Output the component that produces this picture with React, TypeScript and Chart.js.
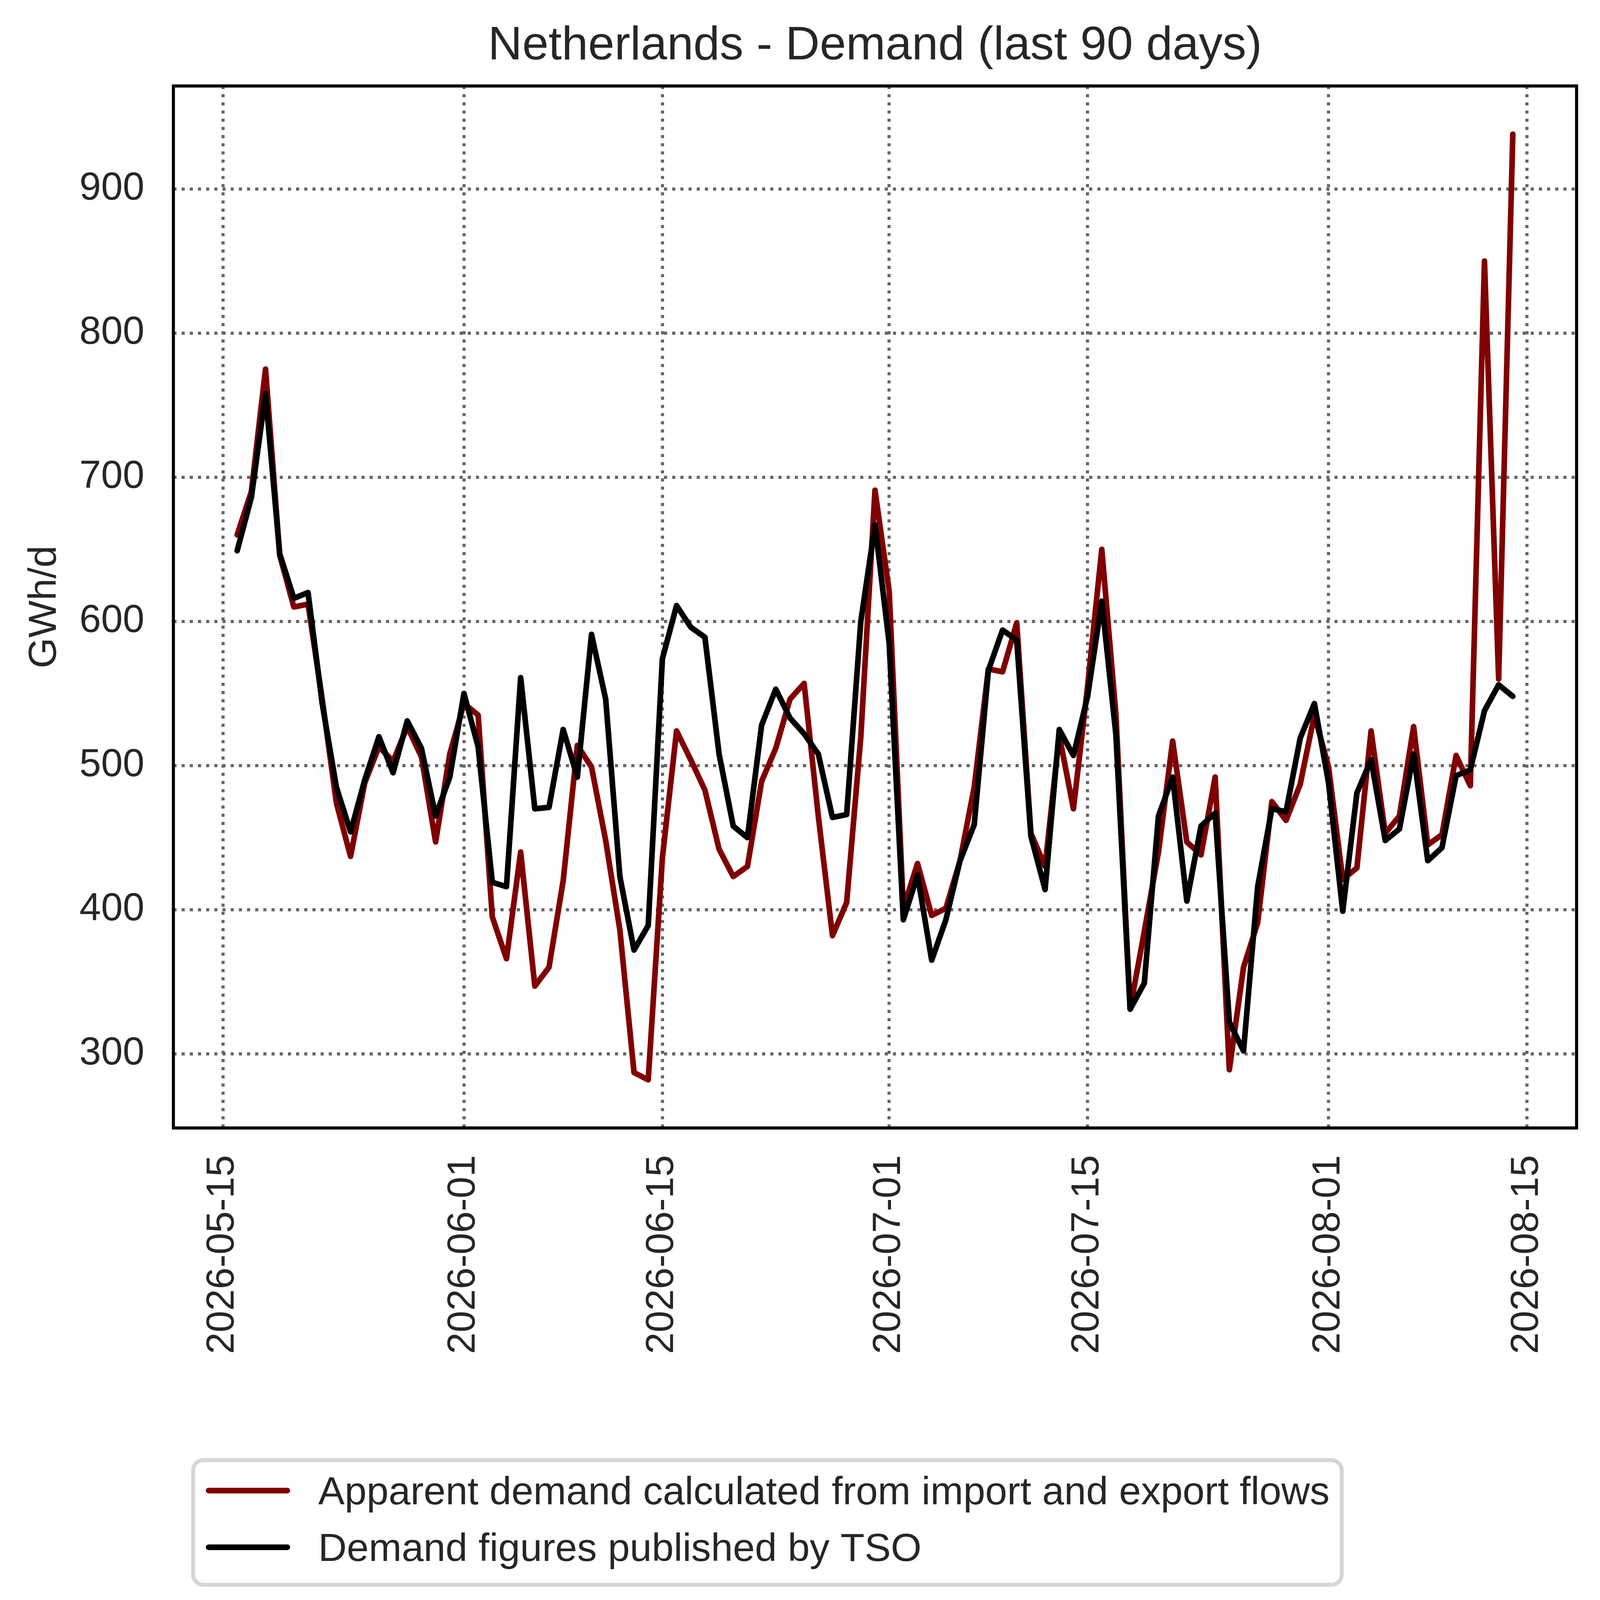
import { useEffect, useRef } from "react"
import { Chart, registerables } from "chart.js"
import type { Plugin } from "chart.js"

Chart.register(...registerables)

const DAY_MS = 86400000
const FIRST_DAY = "2026-05-16"
const AXIS_ORIGIN = "2026-05-15"

const seriesLabels = [
  "Apparent demand calculated from import and export flows",
  "Demand figures published by TSO",
]
const seriesColors = ["#800000", "#000000"]

// GWh/d, one value per day starting at FIRST_DAY
const apparentDemand = [
  660, 690, 775, 646, 610, 612, 546, 474, 437, 488,
  513, 503, 527, 506, 447, 508, 543, 535, 395, 366,
  440, 347, 360, 420, 514, 499, 448, 386, 287, 282,
  436, 524, 504, 483, 442, 423, 430, 489, 512, 546,
  557, 465, 382, 405, 520, 691, 621, 401, 432, 396,
  401, 434, 485, 567, 565, 599, 453, 430, 521, 470,
  555, 650, 535, 331, 385, 440, 517, 447, 438, 492,
  289, 360, 391, 475, 462, 487, 535, 499, 421, 429,
  524, 453, 465, 527, 445, 452, 507, 486, 850, 560,
  938,
]

const tsoDemand = [
  649, 686, 758, 647, 616, 620, 543, 485, 454, 490,
  520, 495, 531, 512, 465, 492, 550, 513, 419, 416,
  561, 470, 471, 525, 492, 591, 546, 423, 372, 389,
  574, 611, 596, 589, 508, 458, 450, 528, 553, 533,
  522, 508, 464, 466, 600, 667, 585, 393, 424, 365,
  393, 434, 459, 566, 594, 587, 451, 414, 525, 507,
  548, 614, 521, 331, 349, 465, 492, 406, 458, 467,
  322, 302, 416, 470, 468, 519, 543, 488, 399, 481,
  504, 448, 456, 508, 434, 443, 493, 497, 538, 556,
  548,
]

const xTickLabels = [
  "2026-05-15",
  "2026-06-01",
  "2026-06-15",
  "2026-07-01",
  "2026-07-15",
  "2026-08-01",
  "2026-08-15",
]
const yTicks = [300, 400, 500, 600, 700, 800, 900]

const dates = apparentDemand.map((_, i) =>
  new Date(Date.parse(FIRST_DAY) + i * DAY_MS).toISOString().slice(0, 10)
)

const dayOf = (iso: string) => (Date.parse(iso) - Date.parse(AXIS_ORIGIN)) / DAY_MS

const TEXT = "#262626"
const FONT = "'Liberation Sans', Arial, Helvetica, sans-serif"

// the layout below is measured on a 5675 x 5721 figure
const FIG_W = 5675
const FIG_H = 5721

function DemandChart() {
  const chartRef = useRef<HTMLCanvasElement>(null)
  const chartInstance = useRef<Chart | null>(null)
  const k = typeof window !== "undefined" ? window.innerWidth / FIG_W : 1
  const px = (v: number) => v * k

  useEffect(() => {
    if (!chartRef.current) return
    if (chartInstance.current) chartInstance.current.destroy()

    document.body.style.overflow = "hidden"
    Chart.defaults.font.family = FONT
    Chart.defaults.color = TEXT

    // axes frame on all four sides, above the lines like matplotlib spines
    const framePlugin: Plugin<"line"> = {
      id: "frame",
      afterDatasetsDraw(chart) {
        const { ctx, chartArea: a } = chart
        ctx.save()
        ctx.strokeStyle = "#000000"
        ctx.lineWidth = px(11)
        ctx.strokeRect(a.left, a.top, a.right - a.left, a.bottom - a.top)
        ctx.restore()
      },
    }

    // boxed legend, two rows, below the x labels
    const legendPlugin: Plugin<"line"> = {
      id: "boxLegend",
      afterDraw(chart) {
        const { ctx } = chart
        const datasets = chart.data.datasets
        const left = px(685)
        const top = px(5179)
        const bottom = px(5621)
        const textX = px(1129)
        ctx.save()
        ctx.font = `${px(140)}px ${FONT}`
        const textW = Math.max(...datasets.map((d) => ctx.measureText(String(d.label)).width))
        const right = textX + textW + px(43)
        ctx.beginPath()
        ctx.roundRect(left, top, right - left, bottom - top, px(36))
        ctx.fillStyle = "#ffffff"
        ctx.fill()
        ctx.lineWidth = px(14)
        ctx.strokeStyle = "rgb(214,214,214)"
        ctx.stroke()
        datasets.forEach((d, i) => {
          const y = px(5287 + i * 201)
          ctx.beginPath()
          ctx.moveTo(px(740), y)
          ctx.lineTo(px(1019), y)
          ctx.lineWidth = px(20)
          ctx.lineCap = "round"
          ctx.strokeStyle = String(d.borderColor)
          ctx.stroke()
          ctx.fillStyle = TEXT
          ctx.textBaseline = "alphabetic"
          ctx.textAlign = "left"
          ctx.fillText(String(d.label), textX, px(5335 + i * 202))
        })
        ctx.restore()
      },
    }

    const series = [apparentDemand, tsoDemand]
    const gridStyle = { color: "#666666", lineWidth: px(11), drawTicks: false }
    const borderStyle = { display: false, dash: [px(11), px(18)] }

    chartInstance.current = new Chart(chartRef.current, {
      type: "line",
      data: {
        datasets: series.map((values, s) => ({
          label: seriesLabels[s],
          data: dates.map((d, i) => ({ x: dayOf(d), y: values[i] })),
          borderColor: seriesColors[s],
          backgroundColor: seriesColors[s],
          borderWidth: px(20),
          borderJoinStyle: "round" as const,
          borderCapStyle: "round" as const,
          pointRadius: 0,
          tension: 0,
          fill: false,
          order: 2 - s,
        })),
      },
      options: {
        responsive: false,
        animation: false,
        layout: { padding: { left: 0, right: px(83), top: 0, bottom: 0 } },
        plugins: {
          legend: { display: false },
          tooltip: { enabled: false },
          title: {
            display: true,
            text: "Netherlands - Demand (last 90 days)",
            fullSize: false,
            color: TEXT,
            font: { size: px(168), weight: "normal", lineHeight: 1.2 },
            padding: { top: px(63), bottom: px(40.4) },
          },
        },
        scales: {
          x: {
            type: "linear",
            min: -3.5,
            max: 95.5,
            afterBuildTicks: (scale) => {
              scale.ticks = xTickLabels.map((l) => ({ value: dayOf(l) }))
            },
            afterFit: (scale) => {
              scale.height = px(FIG_H - 4001)
              scale.paddingLeft = 0
              scale.paddingRight = 0
            },
            ticks: {
              autoSkip: false,
              minRotation: 90,
              maxRotation: 90,
              padding: px(96),
              color: TEXT,
              font: { size: px(138) },
              callback: (_value, index) => xTickLabels[index],
            },
            grid: gridStyle,
            border: borderStyle,
          },
          y: {
            type: "linear",
            min: 248.6,
            max: 971.4,
            afterBuildTicks: (scale) => {
              scale.ticks = yTicks.map((v) => ({ value: v }))
            },
            afterFit: (scale) => {
              scale.width = px(615)
              scale.paddingTop = 0
              scale.paddingBottom = 0
            },
            ticks: {
              padding: px(103),
              color: TEXT,
              font: { size: px(138) },
              callback: (value) => String(value),
            },
            grid: gridStyle,
            border: borderStyle,
            title: {
              display: true,
              text: "GWh/d",
              color: TEXT,
              font: { size: px(140), lineHeight: 1.2 },
              padding: { top: px(76), bottom: 0 },
            },
          },
        },
      },
      plugins: [framePlugin, legendPlugin],
    })

    return () => {
      if (chartInstance.current) {
        chartInstance.current.destroy()
        chartInstance.current = null
      }
    }
  }, [])

  const w = Math.floor(px(FIG_W))
  const h = Math.floor(px(FIG_H))

  return (
    <div style={{ position: "absolute", left: 0, top: 0, width: w, height: h, background: "#ffffff" }}>
      <canvas ref={chartRef} width={w} height={h} style={{ display: "block", width: w, height: h }} />
    </div>
  )
}

export default function App() {
  return <DemandChart />
}
